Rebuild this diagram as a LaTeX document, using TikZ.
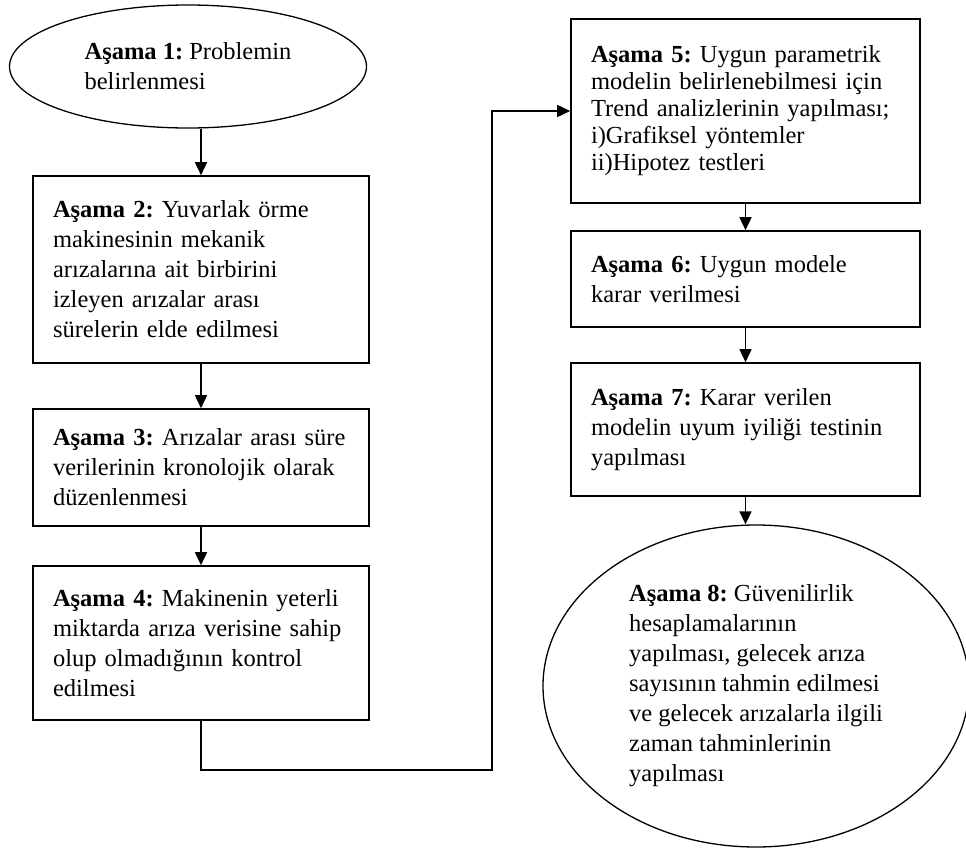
\documentclass[tikz,border=0pt]{standalone}
\usepackage{fontspec}
\setmainfont{Liberation Serif}
\usetikzlibrary{arrows.meta,shapes.geometric,positioning}
\frenchspacing

\begin{document}
\begin{tikzpicture}[x=1pt,y=-1pt,
    every node/.style={font=\fontsize{24.5}{30}\selectfont},
    stage/.style={draw,line width=1.6pt,rectangle,align=left,inner xsep=20pt},
    oval/.style={draw,line width=1.3pt,ellipse,align=left,inner sep=0pt},
    arr/.style={line width=1.6pt,-{Triangle[width=12pt,length=13pt]}}]
  % page frame
  \useasboundingbox (0,0) rectangle (966,848);
  % left column
  \node[oval,minimum width=357pt,minimum height=123pt] (e1) at (188,66.5)
    {\textbf{Aşama 1:} Problemin\\belirlenmesi};
  \node[stage,text width=296pt,minimum height=187pt] (b2) at (201,269.5)
    {\textbf{Aşama 2:} Yuvarlak örme\\makinesinin mekanik\\arızalarına ait birbirini\\izleyen arızalar arası\\sürelerin elde edilmesi};
  \node[stage,text width=296pt,minimum height=117pt] (b3) at (201,467.5)
    {\textbf{Aşama 3:} Arızalar arası süre\\verilerinin kronolojik olarak\\düzenlenmesi};
  \node[stage,text width=296pt,minimum height=154pt] (b4) at (201,643)
    {\textbf{Aşama 4:} Makinenin yeterli\\miktarda arıza verisine sahip\\olup olmadığının kontrol\\edilmesi};
  % right column
  \node[stage,text width=309pt,minimum height=184pt,font=\fontsize{24.5}{27}\selectfont] (b5) at (745.5,111)
    {\textbf{Aşama 5:} Uygun parametrik\\modelin belirlenebilmesi için\\Trend analizlerinin yapılması;\\i)Grafiksel yöntemler\\ii)Hipotez testleri};
  \node[stage,text width=309pt,minimum height=96pt] (b6) at (745.5,279)
    {\textbf{Aşama 6:} Uygun modele\\karar verilmesi};
  \node[stage,text width=309pt,minimum height=133pt] (b7) at (745.5,429.5)
    {\textbf{Aşama 7:} Karar verilen\\modelin uyum iyiliği testinin\\yapılması};
  \node[oval,minimum width=426pt,minimum height=322pt] (e8) at (756,686)
    {\textbf{Aşama 8:} Güvenilirlik\\hesaplamalarının\\yapılması, gelecek arıza\\sayısının tahmin edilmesi\\ve gelecek arızalarla ilgili\\zaman tahminlerinin\\yapılması};
  % arrows
  \draw[arr] (b2.north |- e1.south) -- (b2.north);
  \draw[arr] (b2) -- (b3);
  \draw[arr] (b3) -- (b4);
  \coordinate (low) at (492,770);
  \draw[arr] (b4.south) |- (low) |- (b5.west);
  \draw[arr] (b5) -- (b6);
  \draw[arr] (b6) -- (b7);
  \draw[arr] (b7.south) -- (b7.south |- e8.north);
\end{tikzpicture}
\end{document}
